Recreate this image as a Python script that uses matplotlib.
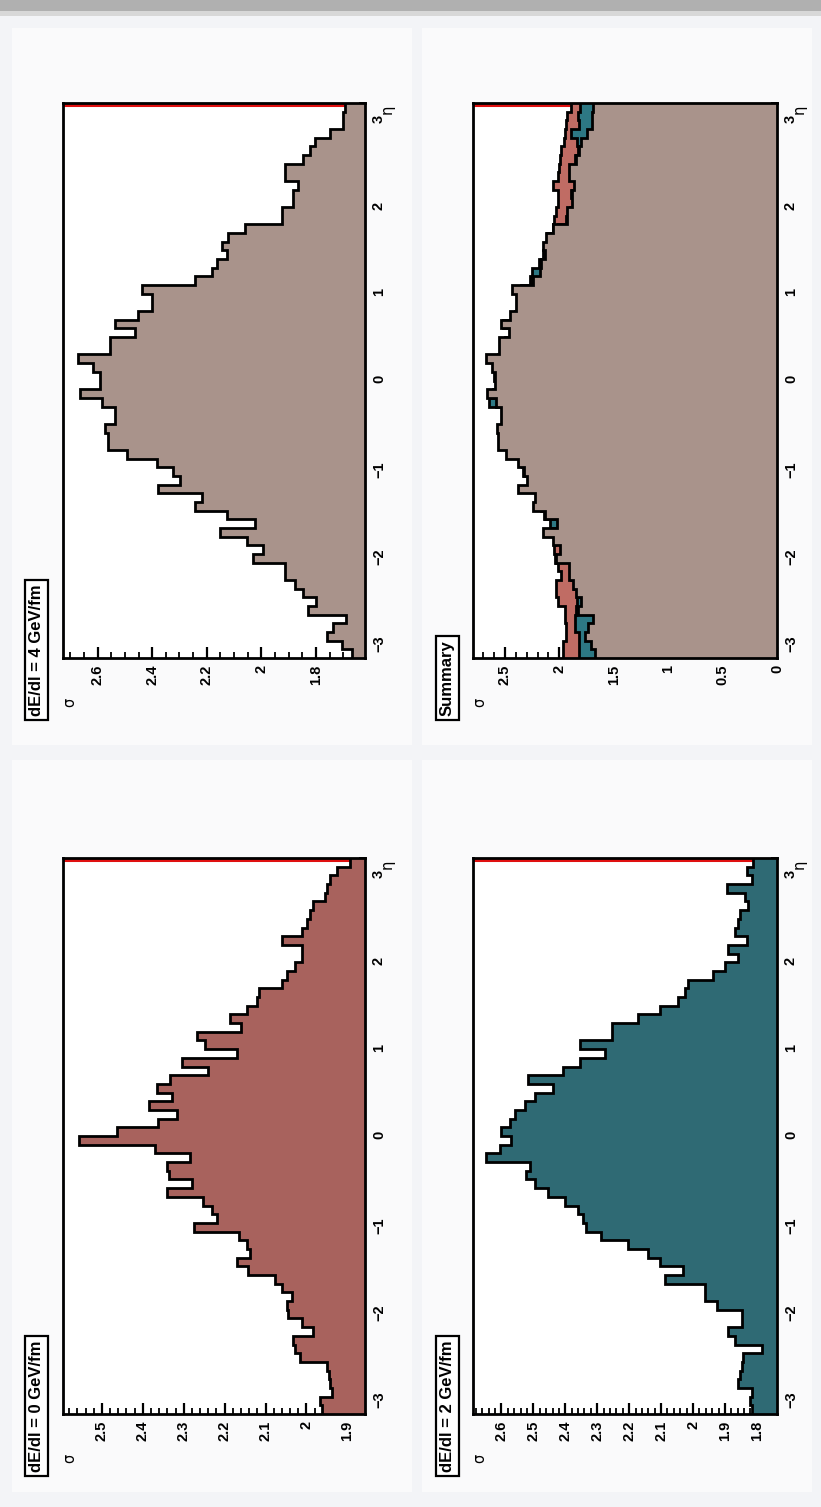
import matplotlib
matplotlib.use("Agg")
import matplotlib.pyplot as plt
import numpy as np
from matplotlib.ticker import MultipleLocator, FuncFormatter
from matplotlib.patches import Rectangle

# ---------------- data ----------------
eta_edges = [round(-3.2 + 0.1 * i, 1) for i in range(65)]

sigma_dEdl0 = [1.962, 1.967, 1.938, 1.942, 1.946, 1.950, 2.015, 2.028, 2.032, 1.983,
               2.011, 2.044, 2.048, 2.036, 2.060, 2.077, 2.142, 2.170, 2.138, 2.146,
               2.166, 2.276, 2.219, 2.231, 2.252, 2.341, 2.280, 2.337, 2.341, 2.284,
               2.370, 2.557, 2.464, 2.362, 2.317, 2.386, 2.329, 2.366, 2.333, 2.240,
               2.305, 2.170, 2.248, 2.268, 2.159, 2.187, 2.146, 2.121, 2.117, 2.060,
               2.048, 2.028, 2.011, 2.011, 2.060, 2.011, 1.999, 1.991, 1.983, 1.954,
               1.950, 1.942, 1.926, 1.893]

sigma_dEdl2 = [1.816, 1.821, 1.816, 1.858, 1.853, 1.847, 1.842, 1.785, 1.868, 1.889,
               1.847, 1.847, 1.926, 1.962, 1.962, 2.088, 2.030, 2.104, 2.140, 2.203,
               2.287, 2.334, 2.344, 2.360, 2.402, 2.454, 2.496, 2.522, 2.512, 2.648,
               2.606, 2.569, 2.601, 2.574, 2.559, 2.527, 2.496, 2.438, 2.517, 2.407,
               2.355, 2.276, 2.355, 2.255, 2.255, 2.172, 2.104, 2.046, 2.025, 2.015,
               1.936, 1.900, 1.858, 1.889, 1.832, 1.868, 1.858, 1.853, 1.827, 1.837,
               1.894, 1.816, 1.832, 1.811]

sigma_dEdl4 = [1.669, 1.706, 1.761, 1.737, 1.688, 1.828, 1.798, 1.846, 1.877, 1.914,
               1.914, 2.030, 1.993, 2.054, 2.152, 2.023, 2.127, 2.243, 2.219, 2.378,
               2.298, 2.323, 2.384, 2.494, 2.561, 2.561, 2.573, 2.536, 2.536, 2.585,
               2.665, 2.591, 2.591, 2.616, 2.671, 2.555, 2.555, 2.463, 2.536, 2.451,
               2.402, 2.402, 2.439, 2.243, 2.182, 2.164, 2.127, 2.146, 2.121, 2.060,
               1.926, 1.926, 1.883, 1.883, 1.865, 1.914, 1.914, 1.846, 1.822, 1.804,
               1.749, 1.700, 1.700, 1.694]

titles = ["dE/dl = 0 GeV/fm", "dE/dl = 2 GeV/fm", "dE/dl = 4 GeV/fm", "Summary"]

col_red = "#a8625d"
col_teal = "#2f6a74"
col_brown = "#a9938b"
col_red_sum = "#c06c64"
col_teal_sum = "#2d7884"

# ---------------- layout helpers ----------------
W, H = 821, 1507
fig = plt.figure(figsize=(W / 100, H / 100), dpi=100)
fig.patch.set_facecolor("#f3f4f7")

FONT = "Liberation Sans"


def fx(x):
    return x / W


def fy(y):
    return 1 - y / H


def add_axes_px(x0, y0, x1, y1):
    return fig.add_axes([fx(x0), fy(y1), (x1 - x0) / W, (y1 - y0) / H])


# page decoration (scan edge + pads)
bg = fig.add_axes([0, 0, 1, 1], zorder=-10)
bg.set_xlim(0, W)
bg.set_ylim(H, 0)
bg.axis("off")
bg.add_patch(Rectangle((0, 0), W, 11, color="#b0b0b0", lw=0))
bg.add_patch(Rectangle((0, 11), W, 5, color="#d8d8d8", lw=0))
for (x0, y0, x1, y1) in [(12, 28, 412, 745), (422, 28, 812, 745),
                         (12, 760, 412, 1492), (422, 760, 812, 1492)]:
    bg.add_patch(Rectangle((x0, y0), x1 - x0, y1 - y0, color="#fafafb", lw=0))


def fmt(v, pos):
    s = ("%.2f" % v).rstrip("0").rstrip(".")
    return s.replace("-", "\u2212")


def style_axes(ax, smin, smax, major, minor):
    ax.set_xlim(smax, smin)
    ax.set_ylim(-3.2, 3.2)
    for sp in ax.spines.values():
        sp.set_linewidth(2.0)
        sp.set_color("black")
        sp.set_zorder(10)
    ax.yaxis.tick_right()
    ax.xaxis.tick_bottom()
    ax.yaxis.set_major_locator(MultipleLocator(1))
    ax.yaxis.set_minor_locator(MultipleLocator(0.2))
    ax.xaxis.set_major_locator(MultipleLocator(major))
    ax.xaxis.set_minor_locator(MultipleLocator(minor))
    ax.xaxis.set_major_formatter(FuncFormatter(fmt))
    ax.yaxis.set_major_formatter(FuncFormatter(fmt))
    ax.tick_params(which="major", direction="in", length=8, width=1.6,
                   labelsize=10.5, pad=5)
    ax.tick_params(which="minor", direction="in", length=4, width=1.3)
    ax.tick_params(axis="x", labelrotation=90)
    ax.tick_params(axis="y", labelrotation=90)
    for lab in ax.get_xticklabels() + ax.get_yticklabels():
        lab.set_fontfamily(FONT)
        lab.set_fontweight("bold")
    ax.set_facecolor("white")


def draw_hist(ax, vals, color, baseline, z=2.0):
    ax.stairs(vals, eta_edges, orientation="horizontal", baseline=baseline,
              fill=True, color=color, zorder=z)
    ax.stairs(vals, eta_edges, orientation="horizontal", baseline=None,
              fill=False, color="black", lw=2.0, zorder=z + 0.05)


def red_line(ax, smin, smax):
    ax.plot([smax, smin], [3.18, 3.18], color="#e01010", lw=2.2, zorder=1,
            solid_capstyle="butt")


def labels(x_left, x_right, y_top, y_bot, title, tx):
    fig.text(fx(x_right + 22), fy(y_top + 6), "\u03b7", fontsize=10.5,
             rotation=90, ha="center", va="center", family="DejaVu Sans")
    fig.text(fx(x_left + 7), fy(y_bot + 44), "\u03c3", fontsize=10.5,
             rotation=90, ha="center", va="center", family="DejaVu Sans")
    fig.text(fx(tx), fy(y_bot + 58), title, fontsize=12, fontweight="bold",
             family=FONT, rotation=90, ha="center", va="bottom",
             bbox=dict(boxstyle="square,pad=0.25", fc="white", ec="black", lw=1.6))


# panel frames (image pixels)
LX0, LX1 = 63, 365
RX0, RX1 = 473, 777
TY0, TY1 = 103, 658
BY0, BY1 = 858, 1414

# dE/dl = 4 (top-left)
axA = add_axes_px(LX0, TY0, LX1, TY1)
sA = (1.62, 2.727)
style_axes(axA, sA[0], sA[1], 0.2, 0.05)
red_line(axA, *sA)
draw_hist(axA, sigma_dEdl4, col_brown, sA[0])
labels(LX0, LX1, TY0, TY1, titles[2], 36.5)

# Summary (top-right): drawn in order, each covering the previous
axB = add_axes_px(RX0, TY0, RX1, TY1)
sB = (0.0, 2.793)
style_axes(axB, sB[0], sB[1], 0.5, 0.1)
red_line(axB, *sB)
draw_hist(axB, sigma_dEdl0, col_red_sum, 0.0, z=2.0)
draw_hist(axB, sigma_dEdl2, col_teal_sum, 0.0, z=2.2)
draw_hist(axB, sigma_dEdl4, col_brown, 0.0, z=2.4)
labels(RX0, RX1, TY0, TY1, titles[3], 447.5)

# dE/dl = 0 (bottom-left)
axC = add_axes_px(LX0, BY0, LX1, BY1)
sC = (1.857, 2.595)
style_axes(axC, sC[0], sC[1], 0.1, 0.02)
red_line(axC, *sC)
draw_hist(axC, sigma_dEdl0, col_red, sC[0])
labels(LX0, LX1, BY0, BY1, titles[0], 36.5)

# dE/dl = 2 (bottom-right)
axD = add_axes_px(RX0, BY0, RX1, BY1)
sD = (1.737, 2.689)
style_axes(axD, sD[0], sD[1], 0.1, 0.02)
red_line(axD, *sD)
draw_hist(axD, sigma_dEdl2, col_teal, sD[0])
labels(RX0, RX1, BY0, BY1, titles[1], 447.5)

fig.savefig("out.png", dpi=100, facecolor=fig.get_facecolor())
